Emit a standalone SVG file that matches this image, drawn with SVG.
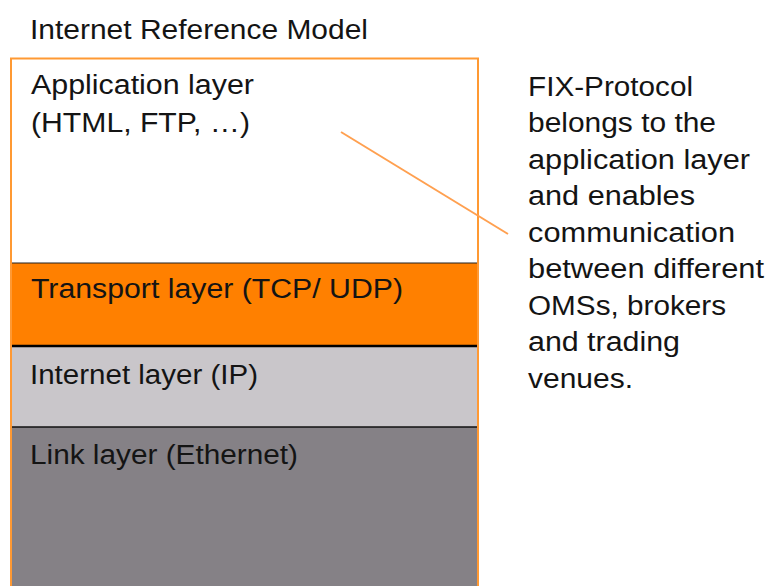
<svg xmlns="http://www.w3.org/2000/svg" width="769" height="586" viewBox="0 0 769 586">
<style>
text{font-family:"Liberation Sans",Arial,sans-serif;font-size:27px;fill:#141414}
.frame{fill:none;stroke:#FF9933;stroke-width:2}
.sep{stroke:#222;fill:none}
.conn{stroke:#FFA050;stroke-width:2;fill:none}
</style>
<rect width="769" height="586" fill="#ffffff"/>
<g id="title">
<text x="30" y="39" textLength="338" lengthAdjust="spacingAndGlyphs">Internet Reference Model</text>
</g>
<g id="application">
<rect x="11" y="58" width="467" height="205" fill="#ffffff"/>
<text x="31" y="94" textLength="223" lengthAdjust="spacingAndGlyphs">Application layer</text>
<text x="31" y="132" textLength="219" lengthAdjust="spacingAndGlyphs">(HTML, FTP, …)</text>
</g>
<g id="transport">
<rect x="11" y="263" width="467" height="83" fill="#FF8000"/>
<line class="sep" x1="11" y1="263" x2="478" y2="263" stroke-width="1.2"/>
<text x="31" y="298" textLength="372" lengthAdjust="spacingAndGlyphs">Transport layer (TCP/ UDP)</text>
</g>
<g id="internet">
<rect x="11" y="346" width="467" height="81" fill="#C9C6CA"/>
<line x1="11" y1="346" x2="478" y2="346" stroke="#000" stroke-width="2.5"/>
<text x="30" y="384" textLength="228" lengthAdjust="spacingAndGlyphs">Internet layer (IP)</text>
</g>
<g id="link">
<rect x="11" y="427" width="467" height="170" fill="#858186"/>
<line x1="11" y1="427" x2="478" y2="427" stroke="#111" stroke-width="1.5"/>
<text x="30" y="464" textLength="268" lengthAdjust="spacingAndGlyphs">Link layer (Ethernet)</text>
</g>
<rect class="frame" x="11" y="58.5" width="467" height="540"/>
<g id="connectors">
<line class="conn" x1="341" y1="132" x2="508" y2="234"/>
</g>
<g id="note">
<text x="528" y="96" textLength="165" lengthAdjust="spacingAndGlyphs">FIX-Protocol</text>
<text x="528" y="132" textLength="188" lengthAdjust="spacingAndGlyphs">belongs to the</text>
<text x="528" y="169" textLength="222" lengthAdjust="spacingAndGlyphs">application layer</text>
<text x="528" y="205" textLength="167" lengthAdjust="spacingAndGlyphs">and enables</text>
<text x="528" y="242" textLength="207" lengthAdjust="spacingAndGlyphs">communication</text>
<text x="528" y="278" textLength="236" lengthAdjust="spacingAndGlyphs">between different</text>
<text x="528" y="315" textLength="198" lengthAdjust="spacingAndGlyphs">OMSs, brokers</text>
<text x="528" y="351" textLength="152" lengthAdjust="spacingAndGlyphs">and trading</text>
<text x="528" y="388" textLength="105" lengthAdjust="spacingAndGlyphs">venues.</text>
</g>
</svg>
